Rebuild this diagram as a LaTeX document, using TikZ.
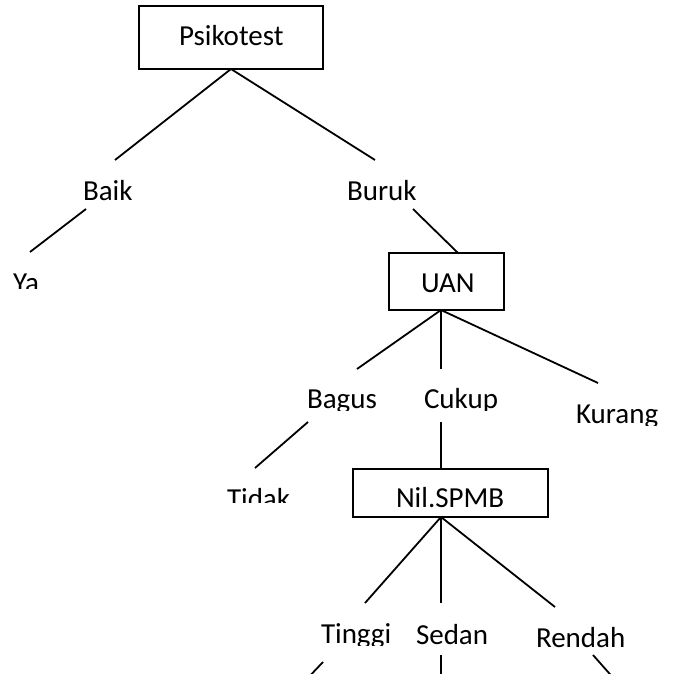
\documentclass[tikz,border=0pt]{standalone}
\usepackage{fontspec}
\setmainfont{Carlito}
\begin{document}
\begin{tikzpicture}[x=1pt,y=-1pt,
  link/.style={line width=1.8pt,line cap=butt},
  frame/.style={line width=1.8pt},
  lbl/.style={anchor=base west,inner sep=0pt,outer sep=0pt,font=\fontsize{29}{35}\selectfont}]
\newcommand\lbl[5]{% name, left x, baseline, lower clip edge, text
  \begin{scope}
    \clip (#2-10,#3-40) rectangle (#2+160,#4);
    \node[lbl] (#1) at (#2,#3) {#5};
  \end{scope}}
\fill[white] (0,0) rectangle (680,674);
\useasboundingbox (0,0) rectangle (680,674);

% boxed decision nodes
\draw[frame] (139,6) rectangle (323,69);
\draw[frame] (389,253) rectangle (504,310);
\draw[frame] (353,469) rectangle (548,517);
\node[lbl] (psi) at (179,46) {Psikotest};
\node[lbl] (uan) at (421,292) {UAN};
\node[lbl] (nil) at (396,507) {Nil.SPMB};

% branch labels
\lbl{baik}{83}{200}{202}{Baik}
\lbl{buruk}{347}{200}{202}{Buruk}
\lbl{ya}{13}{292}{288}{Ya}
\lbl{bagus}{307}{408}{410}{Bagus}
\lbl{cukup}{424}{408}{410}{Cukup}
\lbl{kurang}{576}{423}{425}{Kurang}
\lbl{tidak}{227}{508}{502}{Tidak}
\lbl{tinggi}{321}{643}{645}{Tinggi}
\lbl{sedan}{416}{644}{646}{Sedan}
\lbl{rendah}{536}{647}{649}{Rendah}

% connector end points
\coordinate (psiB) at (231,69);
\coordinate (baikT) at (115,160);
\coordinate (burukT) at (375,160);
\coordinate (baikB) at (86,209);
\coordinate (yaT) at (30,252);
\coordinate (burukB) at (413,209);
\coordinate (uanT) at (458,253);
\coordinate (uanB) at (441,310);
\coordinate (bagusT) at (357,369);
\coordinate (cukupT) at (441,369);
\coordinate (kurangT) at (598,383);
\coordinate (bagusB) at (308,422);
\coordinate (tidakT) at (255,468);
\coordinate (cukupB) at (441,422);
\coordinate (nilT) at (441,469);
\coordinate (nilB) at (441,517);
\coordinate (tinggiT) at (365,603);
\coordinate (sedanT) at (441,603);
\coordinate (rendahT) at (555,607);
\coordinate (tinggiB) at (323,662);
\coordinate (tinggiE) at (305,681);
\coordinate (sedanB) at (441,655);
\coordinate (sedanE) at (441,681);
\coordinate (rendahB) at (593,655);
\coordinate (rendahE) at (616,681);

\draw[link] (psiB) -- (baikT);
\draw[link] (psiB) -- (burukT);
\draw[link] (baikB) -- (yaT);
\draw[link] (burukB) -- (uanT);
\draw[link] (uanB) -- (bagusT);
\draw[link] (uanB) -- (cukupT);
\draw[link] (uanB) -- (kurangT);
\draw[link] (bagusB) -- (tidakT);
\draw[link] (cukupB) -- (nilT);
\draw[link] (nilB) -- (tinggiT);
\draw[link] (nilB) -- (sedanT);
\draw[link] (nilB) -- (rendahT);
\draw[link] (tinggiB) -- (tinggiE);
\draw[link] (sedanB) -- (sedanE);
\draw[link] (rendahB) -- (rendahE);
\end{tikzpicture}
\end{document}
